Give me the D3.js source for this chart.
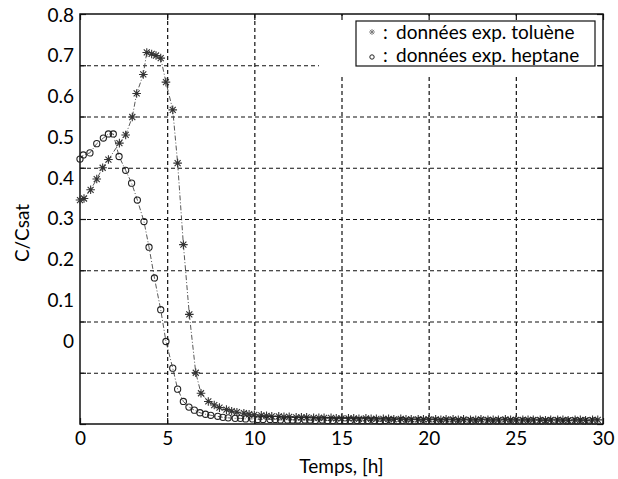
<!DOCTYPE html>
<html>
<head>
<meta charset="utf-8">
<script src="https://cdn.jsdelivr.net/npm/d3@7"></script>
<style>
  body { margin: 0; background: #fff; }
  text { font-family: Lato, "DejaVu Sans", sans-serif; fill: #000; }
</style>
</head>
<body>
<div class="canvas"></div>
<script>
// ticks and labels
const hourTicks = [0, 5, 10, 15, 20, 25, 30];
const ratioTicks = [0, 0.1, 0.2, 0.3, 0.4, 0.5, 0.6, 0.7, 0.8];
const ratioLabels = ['0', '0.1', '0.2', '0.3', '0.4', '0.5', '0.6', '0.7', '0.8'];
const legendNames = ['données exp. toluène', 'données exp. heptane'];

// toluene (asterisks)
const tolueneHours = [
  0, 0.23, 0.61, 0.96, 1.30, 1.63, 2.26, 2.62, 3.00, 3.25,
  3.63, 3.83, 4.11, 4.36, 4.63, 4.93, 5.32, 5.60, 5.93, 6.27,
  6.64, 6.94, 7.36, 7.7, 8.0, 8.4, 8.7, 9.0, 9.4, 9.7,
  10.0, 10.4, 10.7, 11.0, 11.4, 11.7, 12.0, 12.4, 12.7, 13.0,
  13.4, 13.7, 14.0, 14.4, 14.7, 15.0, 15.4, 15.7, 16.0, 16.4,
  16.7, 17.0, 17.4, 17.7, 18.0, 18.4, 18.7, 19.0, 19.4, 19.7,
  20.0, 20.4, 20.7, 21.0, 21.4, 21.7, 22.0, 22.4, 22.7, 23.0,
  23.4, 23.7, 24.0, 24.4, 24.7, 25.0, 25.4, 25.7, 26.0, 26.4,
  26.7, 27.0, 27.4, 27.7, 28.0, 28.4, 28.7, 29.0, 29.4, 29.7
];
const tolueneRatio = [
  0.437, 0.440, 0.457, 0.478, 0.500, 0.516, 0.548, 0.564, 0.599, 0.645,
  0.682, 0.725, 0.722, 0.719, 0.714, 0.667, 0.613, 0.509, 0.350, 0.214,
  0.100, 0.060, 0.044, 0.037, 0.032, 0.028, 0.025, 0.023, 0.021, 0.019,
  0.018, 0.017, 0.016, 0.015, 0.015, 0.014, 0.014, 0.013, 0.013, 0.013,
  0.012, 0.012, 0.012, 0.012, 0.011, 0.011, 0.011, 0.011, 0.010, 0.011,
  0.010, 0.010, 0.010, 0.010, 0.009, 0.010, 0.009, 0.009, 0.009, 0.009,
  0.009, 0.009, 0.008, 0.009, 0.009, 0.008, 0.009, 0.008, 0.008, 0.009,
  0.008, 0.008, 0.008, 0.009, 0.008, 0.008, 0.008, 0.008, 0.008, 0.008,
  0.007, 0.008, 0.008, 0.008, 0.007, 0.008, 0.008, 0.007, 0.008, 0.008
];

// heptane (circles)
const heptaneHours = [
  0, 0.19, 0.57, 0.96, 1.34, 1.63, 1.91, 2.24, 2.62, 2.96,
  3.29, 3.67, 3.96, 4.27, 4.63, 4.93, 5.32, 5.60, 5.93, 6.25,
  6.56, 6.88, 7.2, 7.5, 7.9, 8.2, 8.5, 8.9, 9.2, 9.5,
  9.9, 10.2, 10.5, 10.9, 11.2, 11.5, 11.9, 12.2, 12.5, 12.9,
  13.2, 13.5, 13.9, 14.2, 14.5, 14.9, 15.2, 15.5, 15.9, 16.2,
  16.5, 16.9, 17.2, 17.5, 17.9, 18.2, 18.5, 18.9, 19.2, 19.5,
  19.9, 20.2, 20.5, 20.9, 21.2, 21.5, 21.9, 22.2, 22.5, 22.9,
  23.2, 23.5, 23.9, 24.2, 24.5, 24.9, 25.2, 25.5, 25.9, 26.2,
  26.5, 26.9, 27.2, 27.5, 27.9, 28.2, 28.5, 28.9, 29.2, 29.5
];
const heptaneRatio = [
  0.517, 0.525, 0.529, 0.547, 0.558, 0.566, 0.566, 0.522, 0.495, 0.470,
  0.437, 0.395, 0.345, 0.285, 0.223, 0.161, 0.109, 0.068, 0.044, 0.033,
  0.027, 0.022, 0.019, 0.017, 0.015, 0.013, 0.012, 0.011, 0.011, 0.010,
  0.010, 0.009, 0.009, 0.009, 0.009, 0.008, 0.008, 0.008, 0.008, 0.008,
  0.008, 0.007, 0.008, 0.007, 0.007, 0.007, 0.007, 0.007, 0.007, 0.007,
  0.007, 0.007, 0.006, 0.007, 0.007, 0.006, 0.007, 0.006, 0.006, 0.007,
  0.006, 0.006, 0.006, 0.006, 0.006, 0.006, 0.006, 0.006, 0.006, 0.006,
  0.006, 0.006, 0.006, 0.006, 0.006, 0.006, 0.006, 0.006, 0.006, 0.006,
  0.006, 0.006, 0.006, 0.006, 0.006, 0.006, 0.006, 0.006, 0.006, 0.006
];

const toluene = tolueneHours.map((h, i) => ({h: h, c: tolueneRatio[i]}));
const heptane = heptaneHours.map((h, i) => ({h: h, c: heptaneRatio[i]}));

// svg and margins
const svg = d3.select('.canvas')
  .append('svg')
  .attr('width', 618)
  .attr('height', 479);

const margin = {top: 14, right: 15, bottom: 55, left: 80};
const graphWidth = 618 - margin.left - margin.right;
const graphHeight = 479 - margin.top - margin.bottom;

const graph = svg.append('g')
  .attr('transform', `translate(${margin.left},${margin.top})`);

const x = d3.scaleLinear().domain([0, 30]).range([0, graphWidth]);
const y = d3.scaleLinear().domain([0, 0.8]).range([graphHeight, 0]);
// the printed labels sit on their own, tighter spacing
const yLabel = d3.scaleLinear().domain([0, 0.8]).range([327, 1]);

// grid
const gridX = graph.append('g')
  .attr('transform', `translate(0,${graphHeight})`)
  .call(d3.axisBottom(x).tickValues(hourTicks.slice(1, -1)).tickSize(-graphHeight).tickFormat(''));
const gridY = graph.append('g')
  .call(d3.axisLeft(y).tickValues(ratioTicks.slice(1, -1)).tickSize(-graphWidth).tickFormat(''));
[gridX, gridY].forEach(g => {
  g.select('.domain').remove();
  g.selectAll('line')
    .attr('stroke', '#111')
    .attr('stroke-width', 1.2)
    .attr('stroke-dasharray', '4,3');
});

// blank area left by the legend
graph.append('rect')
  .attr('x', 239).attr('y', 2)
  .attr('width', 278).attr('height', 60)
  .attr('fill', '#fff');

// inner ticks on all four sides
const tick = 6;
graph.append('g').attr('transform', `translate(0,${graphHeight})`)
  .call(d3.axisTop(x).tickValues(hourTicks).tickSize(tick).tickFormat(''));
graph.append('g')
  .call(d3.axisBottom(x).tickValues(hourTicks).tickSize(tick).tickFormat(''));
graph.append('g')
  .call(d3.axisRight(y).tickValues(ratioTicks).tickSize(tick).tickFormat(''));
graph.append('g').attr('transform', `translate(${graphWidth},0)`)
  .call(d3.axisLeft(y).tickValues(ratioTicks).tickSize(tick).tickFormat(''));
graph.selectAll('.domain').remove();
graph.selectAll('line').filter(function() { return !this.getAttribute('stroke-dasharray'); })
  .attr('stroke', '#111').attr('stroke-width', 1.2);

// frame
graph.append('rect')
  .attr('width', graphWidth).attr('height', graphHeight)
  .attr('fill', 'none').attr('stroke', '#111').attr('stroke-width', 1.5);

// tick labels
const xAxisGroup = graph.append('g')
  .attr('transform', `translate(0,${graphHeight})`)
  .call(d3.axisBottom(x).tickValues(hourTicks).tickSize(0).tickPadding(8));
const yAxisGroup = graph.append('g')
  .call(d3.axisLeft(yLabel).tickValues(ratioTicks).tickSize(0).tickPadding(6)
    .tickFormat((d, i) => ratioLabels[i]));
[xAxisGroup, yAxisGroup].forEach(g => {
  g.select('.domain').remove();
  g.selectAll('text').attr('font-size', 19).attr('font-family', 'Lato, sans-serif').attr('fill', '#000');
});

// axis titles
svg.append('text')
  .attr('x', margin.left + graphWidth / 2)
  .attr('y', 473)
  .attr('text-anchor', 'middle')
  .attr('font-size', 19)
  .text('Temps, [h]');
svg.append('text')
  .attr('transform', 'translate(29,233) rotate(-90)')
  .attr('text-anchor', 'middle')
  .attr('font-size', 19)
  .text('C/Csat');

// connecting lines
const line = d3.line().x(d => x(d.h)).y(d => y(d.c));
[toluene, heptane].forEach(series => {
  graph.append('path')
    .datum(series)
    .attr('d', line)
    .attr('fill', 'none')
    .attr('stroke', '#444')
    .attr('stroke-width', 0.9)
    .attr('stroke-dasharray', '5,2,1,2');
});

// markers
const star = (s) => `M${-s},0L${s},0M0,${-s}L0,${s}` +
  `M${-s * 0.7},${-s * 0.7}L${s * 0.7},${s * 0.7}M${-s * 0.7},${s * 0.7}L${s * 0.7},${-s * 0.7}`;

graph.selectAll('.star')
  .data(toluene)
  .enter()
  .append('path')
  .attr('class', 'star')
  .attr('transform', d => `translate(${x(d.h)},${y(d.c)})`)
  .attr('d', star(4.3))
  .attr('stroke', '#333')
  .attr('stroke-width', 1.1)
  .attr('fill', 'none');

graph.selectAll('.ring')
  .data(heptane)
  .enter()
  .append('circle')
  .attr('class', 'ring')
  .attr('cx', d => x(d.h))
  .attr('cy', d => y(d.c))
  .attr('r', 3.1)
  .attr('stroke', '#222')
  .attr('stroke-width', 1.1)
  .attr('fill', 'none');

// legend
const legend = svg.append('g').attr('transform', 'translate(356,21)');
legend.append('rect')
  .attr('width', 239).attr('height', 45)
  .attr('fill', '#fff').attr('stroke', '#111').attr('stroke-width', 1.2);
legend.append('path')
  .attr('transform', 'translate(16,11)')
  .attr('d', star(3))
  .attr('stroke', '#777').attr('stroke-width', 0.9).attr('fill', 'none');
legend.append('circle')
  .attr('cx', 16).attr('cy', 36).attr('r', 2.2)
  .attr('stroke', '#222').attr('stroke-width', 1).attr('fill', 'none');
legendNames.forEach((name, i) => {
  legend.append('text')
    .attr('x', 27).attr('y', 18 + i * 23)
    .attr('font-size', 19)
    .text(':');
  legend.append('text')
    .attr('x', 40).attr('y', 18 + i * 23)
    .attr('font-size', 19)
    .text(name);
});
</script>
</body>
</html>
